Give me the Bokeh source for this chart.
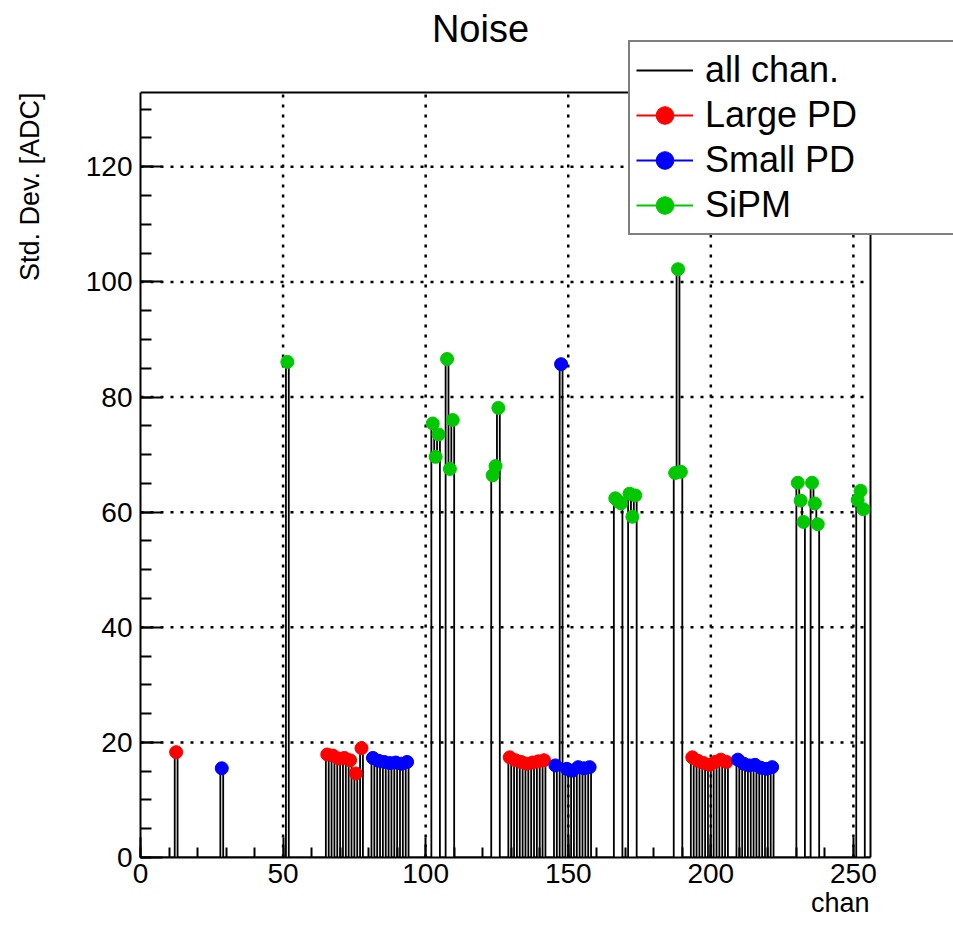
import numpy as np
from bokeh.plotting import figure
from bokeh.models import (Legend, LegendItem, SingleIntervalTicker, Title, Range1d,
                          ColumnDataSource, Label)
from bokeh.embed import file_html
from bokeh.resources import INLINE

# ---------------- data ----------------
n_chan = 256
large_pd_chan = [12, 65, 67, 69, 71, 73, 75, 77, 129, 131, 133, 135, 137, 139, 141,
                 193, 195, 197, 199, 201, 203, 205]
large_pd_val = [18.3, 17.9, 17.7, 17.2, 17.3, 16.9, 14.6, 19.0, 17.4, 16.9, 16.6, 16.3,
                16.5, 16.7, 16.9, 17.4, 16.8, 16.4, 16.1, 16.6, 17.0, 16.6]
small_pd_chan = [28, 81, 83, 85, 87, 89, 91, 93, 145, 147, 149, 151, 153, 155, 157,
                 209, 211, 213, 215, 217, 219, 221]
small_pd_val = [15.5, 17.3, 16.8, 16.6, 16.4, 16.5, 16.3, 16.6, 16.0, 85.7, 15.4, 15.1,
                15.7, 15.5, 15.7, 17.0, 16.3, 16.0, 16.1, 15.6, 15.4, 15.7]
sipm_chan = [51, 102, 103, 104, 107, 108, 109, 123, 124, 125, 166, 167, 168, 171, 172,
             173, 187, 188, 189, 230, 231, 232, 235, 236, 237, 251, 252, 253]
sipm_val = [86.1, 75.4, 69.6, 73.5, 86.6, 67.5, 76.0, 66.4, 68.0, 78.1, 62.4, 61.9, 61.5,
            63.2, 59.2, 62.9, 66.8, 102.2, 67.0, 65.1, 62.0, 58.3, 65.1, 61.5, 57.9,
            62.1, 63.7, 60.5]

x_major_ticks = [0, 50, 100, 150, 200, 250]
y_major_ticks = [0, 20, 40, 60, 80, 100, 120]
y_max = 132.9

FONT = "Liberation Sans"

# ---------------- layout helpers ----------------
# visible axes box: 730 x 765 px, starting 140 px from the left and 92 px from the top
box_w, box_h = 730, 765
px_x = box_w / n_chan
px_y = box_h / y_max
x_end = n_chan + 83 / px_x       # frame reaches the right edge of the canvas
y_end = y_max + 92 / px_y        # frame reaches the top of the canvas

# ---------------- histogram of all channels ----------------
hist = np.zeros(n_chan)
for chans, vals in ((large_pd_chan, large_pd_val), (small_pd_chan, small_pd_val),
                    (sipm_chan, sipm_val)):
    for c, v in zip(chans, vals):
        hist[c] = v
edges = np.arange(n_chan + 1)
step_y = np.append(hist, hist[-1])

p = figure(title=None, frame_width=953 - 140, frame_height=857,
           x_range=Range1d(0, x_end), y_range=Range1d(0, y_end),
           output_backend="svg", toolbar_location=None,
           min_border_left=140, min_border_right=0, min_border_top=0,
           min_border_bottom=0, background_fill_color="white",
           border_fill_color="white")
p.outline_line_color = None
p.xgrid.visible = False
p.ygrid.visible = False

# axes
for ax in (p.xaxis[0], p.yaxis[0]):
    ax.axis_line_width = 2
    ax.major_tick_line_width = 2
    ax.minor_tick_line_width = 2
    ax.major_tick_out = 0
    ax.minor_tick_out = 0
    ax.major_label_text_font = FONT
    ax.major_label_text_font_size = "28px"
    ax.major_label_text_color = "black"
    ax.axis_line_color = "black"
    ax.major_tick_line_color = "black"
    ax.minor_tick_line_color = "black"

p.xaxis[0].ticker = SingleIntervalTicker(interval=50, num_minor_ticks=5)
p.yaxis[0].ticker = SingleIntervalTicker(interval=20, num_minor_ticks=4)
p.xaxis[0].bounds = (0, n_chan)
p.yaxis[0].bounds = (0, y_max)
p.xaxis[0].major_tick_in = 20
p.xaxis[0].minor_tick_in = 10
p.yaxis[0].major_tick_in = 22
p.yaxis[0].minor_tick_in = 11
p.xaxis[0].major_label_standoff = 6
p.yaxis[0].major_label_standoff = 8

# dotted grid, limited to the axes box
gx = [t for t in x_major_ticks if 0 < t < n_chan]
gy = [t for t in y_major_ticks if 0 < t < y_max]
p.segment(x0=gx, y0=[0] * len(gx), x1=gx, y1=[y_max] * len(gx),
          line_color="black", line_width=2.5, line_dash="3 7")
p.segment(x0=[0] * len(gy), y0=gy, x1=[n_chan] * len(gy), y1=gy,
          line_color="black", line_width=2.5, line_dash="3 7")

# axes box: top and right edges
p.line(x=[0, n_chan, n_chan], y=[y_max, y_max, 0], line_color="black", line_width=2)

# title and axis titles
p.add_layout(Label(x=(480 - 140) / px_x, y=(857 - 28) / px_y, text="Noise",
                   text_align="center", text_baseline="middle", text_font=FONT,
                   text_font_size="38px", text_color="black"))
# spacer between y tick labels and the y title
p.add_layout(Title(text=" ", text_font_size="1px", standoff=35), "left")
p.add_layout(Title(text="Std. Dev. [ADC]", align="right", text_font=FONT,
                   text_font_size="27px", text_font_style="normal",
                   text_color="black", standoff=0, offset=92), "left")
p.add_layout(Title(text="chan", align="right", text_font=FONT,
                   text_font_size="27px", text_font_style="normal",
                   text_color="black", standoff=0, offset=84), "below")

# all channels histogram outline
r_all = p.step(x=edges, y=step_y, mode="after", line_color="black", line_width=1.8)

groups = [("Large PD", large_pd_chan, large_pd_val, "#ff0000"),
          ("Small PD", small_pd_chan, small_pd_val, "#0000ff"),
          ("SiPM", sipm_chan, sipm_val, "#00c800")]

items = [LegendItem(label="all chan.", renderers=[r_all])]
for name, chans, vals, col in groups:
    src = ColumnDataSource(dict(x=np.array(chans) + 0.5, y=vals))
    r_pts = p.scatter("x", "y", source=src, size=13, marker="circle",
                      fill_color=col, line_color=col)
    # legend-only line sample (no drawable points)
    r_line = p.line(x=[np.nan, np.nan], y=[np.nan, np.nan], line_color=col,
                    line_width=2)
    items.append(LegendItem(label=name, renderers=[r_line, r_pts]))

legend = Legend(items=items, location=(488, 622), orientation="vertical",
                label_text_font=FONT, label_text_font_size="36px",
                label_text_color="black",
                glyph_width=57, glyph_height=44, label_height=44, label_width=300,
                label_standoff=12, spacing=1, padding=6, margin=0,
                border_line_color="black", border_line_width=2,
                background_fill_color="white", background_fill_alpha=1.0)
p.add_layout(legend, "center")

open("out.html", "w").write(file_html(p, INLINE))
